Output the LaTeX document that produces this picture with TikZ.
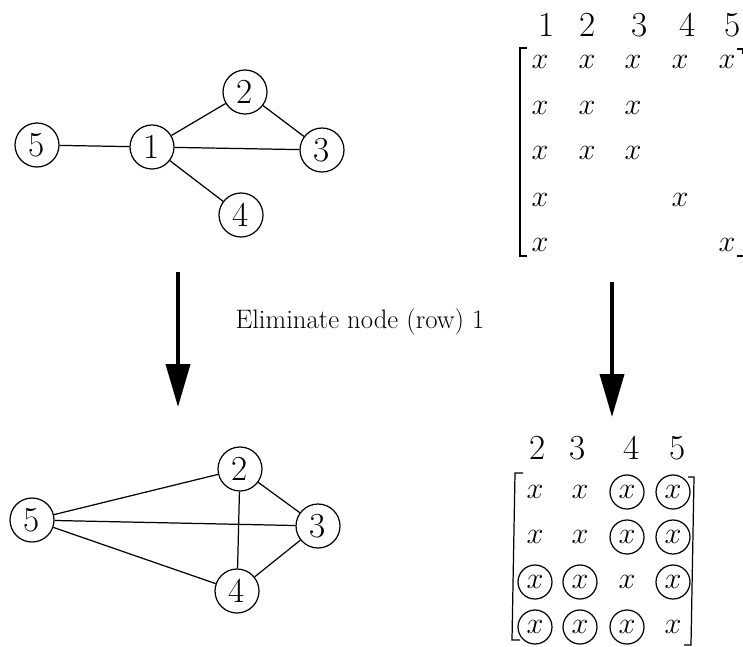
\documentclass[tikz,border=0pt]{standalone}
\usepackage{tikz}
\usetikzlibrary{arrows.meta}

\begin{document}
\begin{tikzpicture}[
    x=0.02cm, y=-0.02cm,
    line width=0.7pt,
    every node/.style={font=\fontsize{20}{24}\selectfont},
    vtx/.style={draw, circle, minimum size=0.88cm, inner sep=0pt},
    ent/.style={font=\fontsize{19}{22}\selectfont, inner sep=0pt},
    cent/.style={ent, draw, circle, minimum size=0.68cm},
    hdr/.style={inner sep=0pt},
    arr/.style={-{Triangle[length=0.86cm, width=0.48cm]}, line width=2.2pt},
    lbl/.style={font=\fontsize{15.2}{18}\selectfont}
]
    \useasboundingbox (0,0) rectangle (743,646);

    % graph before elimination
    \node[vtx] (t5) at (37,145)  {5};
    \node[vtx] (t1) at (152,147) {1};
    \node[vtx] (t2) at (245,92)  {2};
    \node[vtx] (t3) at (322,150) {3};
    \node[vtx] (t4) at (241,215) {4};
    \draw (t5) -- (t1);
    \draw (t1) -- (t2);
    \draw (t1) -- (t3);
    \draw (t1) -- (t4);
    \draw (t2) -- (t3);

    % matrix before elimination
    \node[hdr] (h1) at (547,25) {1};
    \node[hdr] (h2) at (588,25) {2};
    \node[hdr] (h3) at (640,25) {3};
    \node[hdr] (h4) at (688,25) {4};
    \node[hdr] (h5) at (733,25) {5};
    \node[ent] (a11) at (540,62) {$x$}; \node[ent] (a12) at (587,62) {$x$};
    \node[ent] (a13) at (633,62) {$x$}; \node[ent] (a14) at (680,62) {$x$};
    \node[ent] (a15) at (727,62) {$x$};
    \node[ent] (a21) at (540,108) {$x$}; \node[ent] (a22) at (587,108) {$x$};
    \node[ent] (a23) at (633,108) {$x$};
    \node[ent] (a31) at (540,153) {$x$}; \node[ent] (a32) at (587,153) {$x$};
    \node[ent] (a33) at (633,153) {$x$};
    \node[ent] (a41) at (540,200) {$x$}; \node[ent] (a44) at (680,200) {$x$};
    \node[ent] (a51) at (540,245) {$x$}; \node[ent] (a55) at (727,245) {$x$};
    \draw (527,48) -- (520,48) -- (520,256) -- (527,256);
    \draw (737,49) -- (743,49) -- (743,54);
    \draw (737,256) -- (743,256);

    % elimination step
    \coordinate (la0) at (178,272);
    \coordinate (la1) at (178,407);
    \coordinate (ra0) at (612,282);
    \coordinate (ra1) at (612,417);
    \draw[arr] (la0) -- (la1);
    \draw[arr] (ra0) -- (ra1);
    \node[lbl] (elim) at (360,322) {Eliminate node (row) 1};

    % graph after elimination
    \node[vtx] (b2) at (240,469) {2};
    \node[vtx] (b5) at (32,520)  {5};
    \node[vtx] (b3) at (318,526) {3};
    \node[vtx] (b4) at (237,591) {4};
    \draw (b5) -- (b2);
    \draw (b5) -- (b3);
    \draw (b5) -- (b4);
    \draw (b2) -- (b3);
    \draw (b2) -- (b4);
    \draw (b3) -- (b4);

    % matrix after elimination, fill-ins circled
    \node[hdr] (g2) at (538,448) {2};
    \node[hdr] (g3) at (578,448) {3};
    \node[hdr] (g4) at (632,448) {4};
    \node[hdr] (g5) at (678,448) {5};
    \node[ent]  (c11) at (535,492) {$x$}; \node[ent]  (c12) at (580,492) {$x$};
    \node[cent] (c13) at (627,492) {$x$}; \node[cent] (c14) at (673,492) {$x$};
    \node[ent]  (c21) at (535,537) {$x$}; \node[ent]  (c22) at (580,537) {$x$};
    \node[cent] (c23) at (627,537) {$x$}; \node[cent] (c24) at (673,537) {$x$};
    \node[cent] (c31) at (535,582) {$x$}; \node[cent] (c32) at (580,582) {$x$};
    \node[ent]  (c33) at (627,582) {$x$}; \node[cent] (c34) at (673,582) {$x$};
    \node[cent] (c41) at (535,627) {$x$}; \node[cent] (c42) at (580,627) {$x$};
    \node[cent] (c43) at (627,627) {$x$}; \node[ent]  (c44) at (673,627) {$x$};
    \draw (523,473) -- (515,473) -- (512,640) -- (520,640);
    \draw (688,477) -- (694,477) -- (691,645) -- (684,645);
\end{tikzpicture}
\end{document}
